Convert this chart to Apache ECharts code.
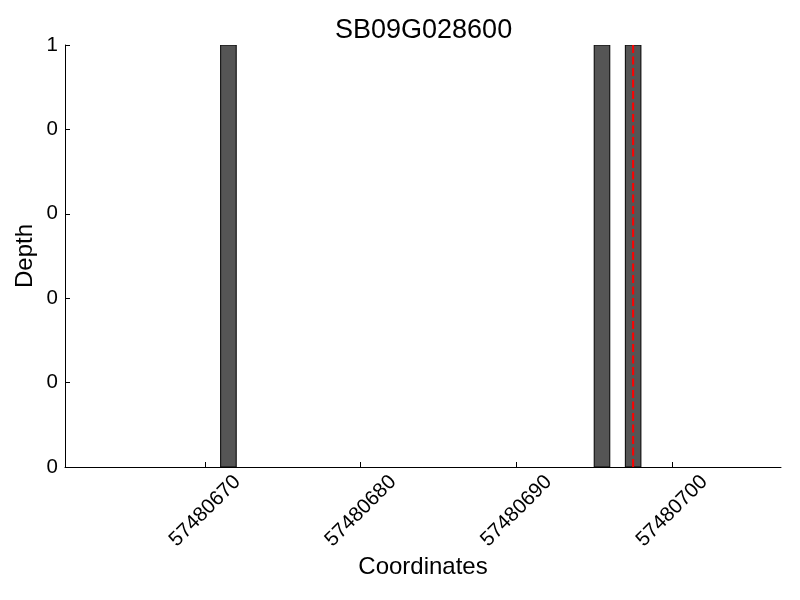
<!DOCTYPE html>
<html>
<head>
<meta charset="utf-8">
<script src="https://cdn.jsdelivr.net/npm/echarts@6/dist/echarts.min.js"></script>
<style>html,body{margin:0;padding:0;background:#fff;}#c{width:800px;height:600px;}</style>
</head>
<body>
<div id="c"></div>
<script>
const titleText = 'SB09G028600';
const barStarts = [57480671, 57480695, 57480697];
const barDepths = [1, 1, 1];
const barSpan = 1;
const markerX = [57480697.5, 57480697.5];
const markerY = [0, 1];
const xTicks = [57480670, 57480680, 57480690, 57480700];
const xRange = [57480661, 57480707];
const yTickLabels = ['0', '0', '0', '0', '0', '1'];

const FONT = 'Liberation Sans';
const chart = echarts.init(document.getElementById('c'), null, {renderer: 'canvas'});

const barData = barStarts.map((x, i) => [x, barDepths[i]]);
const markerData = markerX.map((x, i) => [x, markerY[i]]);

chart.setOption({
  animation: false,
  backgroundColor: '#fff',
  title: {
    text: titleText,
    left: 330,
    top: 12,
    textStyle: {fontFamily: FONT, fontSize: 27, fontWeight: 'normal', color: '#000'}
  },
  grid: {left: 65, right: 19, top: 45, bottom: 133, containLabel: false},
  xAxis: {
    type: 'value',
    min: xRange[0],
    max: xRange[1],
    name: 'Coordinates',
    nameLocation: 'middle',
    nameGap: 88,
    nameMoveOverlap: false,
    nameTextStyle: {fontFamily: FONT, fontSize: 24, color: '#000'},
    axisLine: {show: true, onZero: false, lineStyle: {color: '#000', width: 1}},
    axisTick: {show: true, inside: true, length: 5, customValues: xTicks, lineStyle: {color: '#000'}},
    axisLabel: {
      customValues: xTicks,
      rotate: 45,
      align: 'center',
      verticalAlign: 'middle',
      margin: 44,
      fontFamily: FONT,
      fontSize: 20.5,
      color: '#000',
      formatter: v => String(v)
    },
    splitLine: {show: false}
  },
  yAxis: {
    type: 'value',
    min: 0,
    max: 1,
    interval: 0.2,
    name: 'Depth',
    nameLocation: 'middle',
    nameGap: 28,
    nameMoveOverlap: false,
    nameTextStyle: {fontFamily: FONT, fontSize: 24, color: '#000'},
    axisLine: {show: true, lineStyle: {color: '#000', width: 1}},
    axisTick: {show: true, inside: true, length: 5, lineStyle: {color: '#000'}},
    axisLabel: {
      margin: 7,
      fontFamily: FONT,
      fontSize: 20.5,
      color: '#000',
      formatter: (v, i) => yTickLabels[i]
    },
    splitLine: {show: false}
  },
  series: [
    {
      type: 'custom',
      data: barData,
      clip: true,
      renderItem: function (params, api) {
        const x = api.value(0), y = api.value(1);
        const p0 = api.coord([x, y]);
        const p1 = api.coord([x + barSpan, 0]);
        return {
          type: 'rect',
          shape: {x: p0[0], y: p0[1], width: p1[0] - p0[0], height: p1[1] - p0[1]},
          style: {fill: '#555555', stroke: '#000', lineWidth: 1}
        };
      },
      z: 2
    },
    {
      type: 'line',
      data: markerData,
      symbol: 'none',
      lineStyle: {color: '#ff0000', width: 2, type: [8, 3.5]},
      z: 3
    }
  ]
});
</script>
</body>
</html>
